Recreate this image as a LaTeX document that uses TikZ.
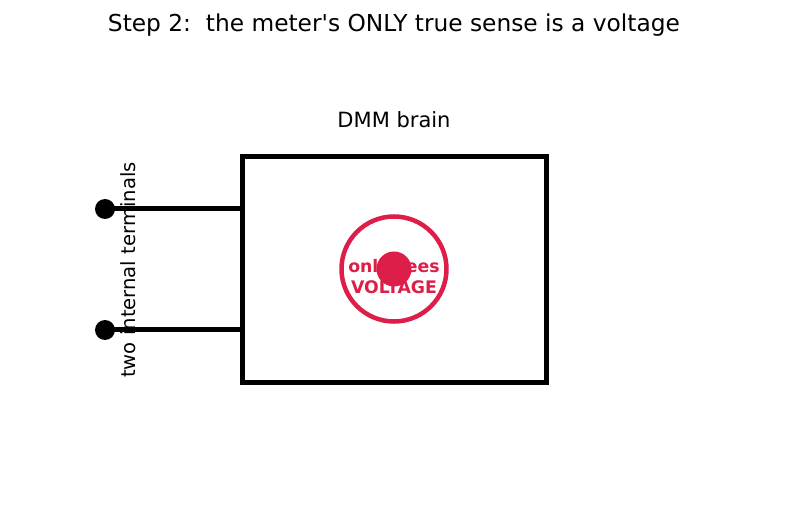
\documentclass[tikz,border=0pt]{standalone}
\usepackage{fontspec}
\setmainfont{DejaVu Sans}
\definecolor{crim}{RGB}{220,30,72}
\begin{document}
\begin{tikzpicture}[x=1pt,y=-1pt,
  wire/.style={line width=5pt},
  term/.style={circle,fill=black,inner sep=0pt,minimum size=20pt},
  lbl/.style={inner sep=0pt}]
\useasboundingbox (0,0) rectangle (787,510);
\node[inner sep=0pt,font=\fontsize{23.3}{28}\selectfont] (title) at (394,25) {Step 2:\ \ the meter\textquotesingle s ONLY true sense is a voltage};
\node[lbl,font=\fontsize{21}{25}\selectfont] (brainlbl) at (394,120) {DMM brain};
\draw[wire] (242.5,156.5) rectangle (546,383);
\coordinate (b1) at (242.5,209);
\coordinate (b2) at (242.5,330);
\node[term] (t1) at (105,209) {};
\node[term] (t2) at (105,330) {};
\draw[wire] (t1.center) -- (b1);
\draw[wire] (t2.center) -- (b2);
\node[lbl,rotate=90,font=\fontsize{19.6}{24}\selectfont] (tlbl) at (128,270) {two internal terminals};
\node[circle,draw=crim,line width=4.5pt,minimum size=105pt,inner sep=0pt] (sense) at (394,269) {};
\node[inner sep=0pt,text=crim,align=center,font=\bfseries\fontsize{17.3}{21}\selectfont] (stext) at (394,277) {only sees\\VOLTAGE};
\node[circle,fill=crim,inner sep=0pt,minimum size=35pt] (dot) at (394,269) {};
\end{tikzpicture}
\end{document}
